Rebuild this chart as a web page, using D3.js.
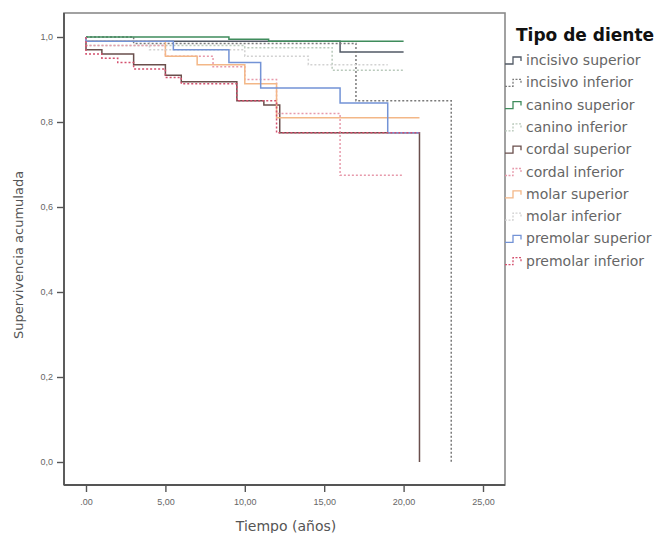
<!DOCTYPE html>
<html>
<head>
<meta charset="utf-8">
<script src="https://cdn.jsdelivr.net/npm/d3@7"></script>
<style>
body{margin:0;background:#fff;}
svg{font-family:"DejaVu Sans","Liberation Sans",Arial,sans-serif;}
</style>
</head>
<body>
<svg id="chart" width="670" height="533"></svg>
<script>
// tick labels
var xTicks=[0,5,10,15,20,25];
var xTickLabels=[".00","5,00","10,00","15,00","20,00","25,00"];
var yTicks=[0,0.2,0.4,0.6,0.8,1.0];
var yTickLabels=["0,0","0,2","0,4","0,6","0,8","1,0"];

// categories
var toothTypes=["incisivo superior","incisivo inferior","canino superior","canino inferior",
  "cordal superior","cordal inferior","molar superior","molar inferior",
  "premolar superior","premolar inferior"];

// survival steps [tiempo, supervivencia]
var incisivoSuperior=[[0,1],[0,0.99],[16,0.965],[20,0.965]];
var incisivoInferior=[[0,1],[3,0.985],[17,0.85],[23,0.85],[23,0]];
var caninoSuperior=[[0,1],[9,0.995],[11.5,0.99],[20,0.99]];
var caninoInferior=[[0,1],[0,0.98],[10,0.975],[15.5,0.922],[20,0.922]];
var cordalSuperior=[[0,1],[0,0.97],[1,0.96],[3,0.935],[5,0.91],[6,0.895],[9.5,0.85],[11.2,0.84],[12.2,0.775],[21,0.775],[21,0]];
var cordalInferior=[[0,1],[0,0.98],[5,0.955],[8,0.93],[10,0.9],[12,0.82],[16,0.675],[20,0.675]];
var molarSuperior=[[0,1],[0,0.99],[5,0.955],[7,0.935],[10,0.89],[12,0.81],[21,0.81]];
var molarInferior=[[0,1],[0,0.99],[4,0.97],[10,0.955],[14,0.935],[19,0.935]];
var premolarSuperior=[[0,1],[0,0.99],[5.5,0.97],[9,0.94],[11,0.88],[16,0.845],[19,0.775],[21,0.775]];
var premolarInferior=[[0,1],[0,0.96],[1,0.95],[2,0.94],[3,0.925],[5,0.905],[6,0.89],[9.5,0.85],[12,0.775],[21,0.775]];

var curves=[incisivoSuperior,incisivoInferior,caninoSuperior,caninoInferior,cordalSuperior,
  cordalInferior,molarSuperior,molarInferior,premolarSuperior,premolarInferior];
var colors=["#525a66","#7a7a7a","#3f8c5c","#b9c9bb","#6a4f4c","#e79aab","#f3b787","#d2d2d2","#7393d6","#d4506e"];
var dashed=[false,true,false,true,false,true,false,true,false,true];

var svg=d3.select("#chart");

var x=d3.scaleLinear().domain([0,25]).range([86,483]);
var y=d3.scaleLinear().domain([0,1]).range([462,37]);

// frame
svg.append("rect")
  .attr("x",64).attr("y",13).attr("width",441).attr("height",472)
  .attr("fill","#fff").attr("stroke","#8a8a8a").attr("stroke-width",1.6);

// axes
var xAxis=svg.append("g").attr("transform","translate(0,485)")
  .call(d3.axisBottom(x).tickValues(xTicks).tickSize(7).tickSizeOuter(0)
    .tickFormat(function(d,i){return xTickLabels[i];}));
var yAxis=svg.append("g").attr("transform","translate(64,0)")
  .call(d3.axisLeft(y).tickValues(yTicks).tickSize(7).tickSizeOuter(0)
    .tickFormat(function(d,i){return yTickLabels[i];}));
[xAxis,yAxis].forEach(function(a){
  a.select(".domain").remove();
  a.selectAll("line").attr("stroke","#555").attr("stroke-width",1.4);
  a.selectAll("text").attr("fill","#666").style("font-size","9px");
});
xAxis.selectAll("text").attr("dy","1.1em");
yAxis.selectAll("text").attr("dx","-0.1em");
svg.append("line").attr("x1",64).attr("x2",505).attr("y1",485).attr("y2",485)
  .attr("stroke","#555").attr("stroke-width",1.8);
svg.append("line").attr("x1",64).attr("x2",64).attr("y1",13).attr("y2",485)
  .attr("stroke","#555").attr("stroke-width",1.8);

// curves
var line=d3.line()
  .x(function(d){return x(d[0]);})
  .y(function(d){return y(d[1]);})
  .curve(d3.curveStepAfter);

curves.forEach(function(c,i){
  svg.append("path")
    .attr("d",line(c))
    .attr("fill","none")
    .attr("stroke",colors[i])
    .attr("stroke-width",1.5)
    .attr("stroke-dasharray",dashed[i]?"2,2":null);
});

// axis titles
svg.append("text").attr("x",286).attr("y",531).attr("text-anchor","middle")
  .attr("fill","#555").style("font-size","14px").text("Tiempo (años)");
svg.append("text").attr("transform","translate(23,255) rotate(-90)")
  .attr("text-anchor","middle").attr("fill","#555").style("font-size","13px")
  .text("Supervivencia acumulada");

// legend
svg.append("text").attr("x",516).attr("y",41)
  .attr("fill","#111").style("font-size","17px").style("font-weight","bold")
  .text("Tipo de diente");

var legend=svg.selectAll(".leg").data(toothTypes).enter().append("g")
  .attr("class","leg")
  .attr("transform",function(d,i){return "translate(0,"+(60+i*22.3)+")";});
legend.append("path")
  .attr("d","M505,4H513V-3H521V1")
  .attr("fill","none")
  .attr("stroke",function(d,i){return colors[i];})
  .attr("stroke-width",1.3)
  .attr("stroke-dasharray",function(d,i){return dashed[i]?"2,1.5":null;});
legend.append("text").attr("x",526).attr("y",5)
  .attr("fill","#666").style("font-size","14px")
  .text(function(d){return d;});
</script>
</body>
</html>
